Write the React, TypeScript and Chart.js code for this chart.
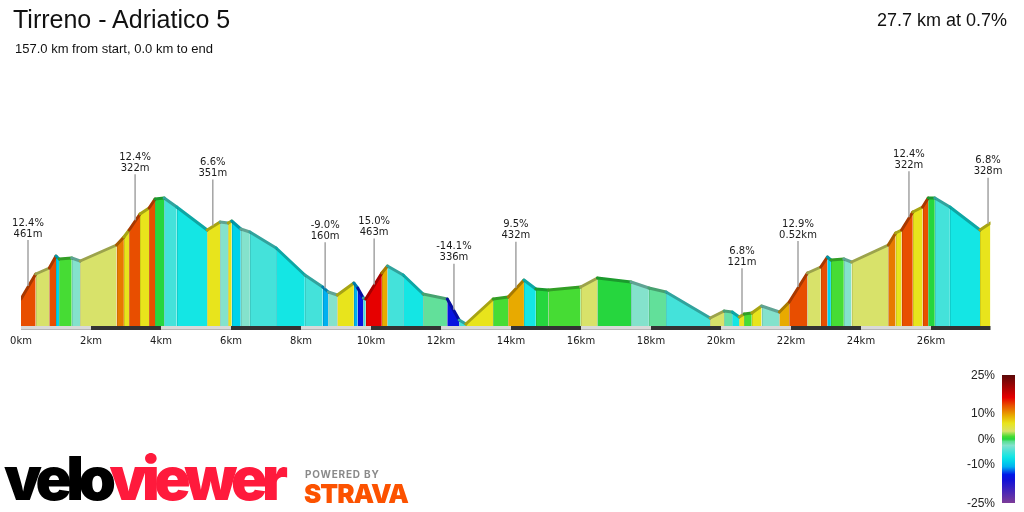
import React, { useEffect, useRef } from "react";
import { Chart, registerables } from "chart.js";

Chart.register(...registerables);

// ---- data ----
const distanceKm = [
  0, 0.42, 0.81, 1.0, 1.09, 1.45, 1.69, 2.73, 2.94, 3.09, 3.4, 3.66, 3.83, 4.09, 4.45, 5.32, 5.69, 5.92,
  6.02, 6.28, 6.54, 7.29, 8.11, 8.62, 8.78, 9.04, 9.51, 9.62, 9.78, 9.85, 10.31, 10.47, 10.92, 11.49,
  12.18, 12.52, 12.71, 13.49, 13.92, 14.37, 14.71, 15.07, 15.99, 16.47, 17.43, 17.94, 18.43, 19.69,
  20.09, 20.32, 20.52, 20.66, 20.88, 21.16, 21.67, 21.95, 22.47, 22.85, 23.04, 23.14, 23.51, 23.73,
  24.78, 24.99, 25.16, 25.48, 25.76, 25.92, 26.11, 26.54, 27.4, 27.7,
];
const elevation = [
  27, 52, 58, 70, 67, 68, 65, 81, 89, 96, 112, 118, 127, 128, 119, 96, 104, 103,
  105, 97, 94, 78, 51, 39, 34, 31, 43, 38, 28, 27, 53, 60, 51, 32,
  27, 6, 2, 27, 29, 46, 37, 36, 39, 48, 44, 38, 34, 8,
  15, 14, 9, 12, 13, 20, 14, 24, 53, 59, 69, 66, 67, 64,
  81, 93, 96, 114, 119, 128, 128, 119, 96, 103,
];
// gradient class (%) of each segment between consecutive points
const segmentGrade = [
  13, 3, 13, -9, 1, -2.5, 3, 11, 6, 13, 6, 13, 0, -5, -7, 6, -2.5, 6,
  -9, -2.5, -5, -7, -5, -11, -2.5, 6, -11, -15, -5, 16, 9, -5, -7, -1,
  -15, -5, 6, 1, 9, -7, 0, 1, 3, 0, -2.5, -1, -5, 3,
  -1.5, -7, 6, 1, 6, -2.5, 9, 13, 3, 13, -9, 1, -2.5, 3,
  11, 6, 13, 6, 13, 0, -5, -7, 6,
];
const totalKm = 27.7;
const tickStepKm = 2;

const annotationKm = [0.2, 3.26, 5.48, 8.69, 10.09, 12.37, 14.14, 20.6, 22.2, 25.37, 27.63];
const annotationGrade = ["12.4%", "12.4%", "6.6%", "-9.0%", "15.0%", "-14.1%", "9.5%", "6.8%", "12.9%", "12.4%", "6.8%"];
const annotationLength = ["461m", "322m", "351m", "160m", "463m", "336m", "432m", "121m", "0.52km", "322m", "328m"];

const legendGrades = [25, 10, 0, -10, -25];
const legendLabels = ["25%", "10%", "0%", "-10%", "-25%"];

const titleText = "Tirreno - Adriatico 5";
const subtitleText = "157.0 km from start, 0.0 km to end";
const summaryText = "27.7 km at 0.7%";

// ---- colour scale ----
const gradeStops: [number, string][] = [
  [-25, "#7d3c98"], [-16, "#1010d8"], [-14, "#0018e8"], [-11, "#00b0f0"], [-9, "#00d2ea"],
  [-7, "#14e6e4"], [-5, "#44e2da"], [-2.5, "#84e2cc"], [-1.5, "#66e0a6"], [-1, "#62e09a"],
  [0, "#26d63e"], [1, "#46dc34"], [3, "#d8e26a"], [6, "#e8e41c"], [9, "#e8aa00"],
  [11, "#e87a00"], [13, "#e84e00"], [16, "#e60000"], [25, "#5a0808"],
];
const legendFrac = [0, 0.295, 0.501, 0.697, 1];

function hexToRgb(h: string) {
  const n = parseInt(h.slice(1), 16);
  return [(n >> 16) & 255, (n >> 8) & 255, n & 255];
}
function gradeRgb(g: number) {
  if (g <= gradeStops[0][0]) return hexToRgb(gradeStops[0][1]);
  for (let i = 1; i < gradeStops.length; i++) {
    const [g1, c1] = gradeStops[i];
    if (g <= g1) {
      const [g0, c0] = gradeStops[i - 1];
      const t = (g - g0) / (g1 - g0);
      const a = hexToRgb(c0), b = hexToRgb(c1);
      return a.map((v, k) => Math.round(v + (b[k] - v) * t));
    }
  }
  return hexToRgb(gradeStops[gradeStops.length - 1][1]);
}
function gradeColor(g: number, f = 1) {
  const c = gradeRgb(g).map((v) => Math.round(v * f));
  return `rgb(${c[0]},${c[1]},${c[2]})`;
}
function legendPos(g: number) {
  for (let i = 1; i < legendGrades.length; i++) {
    if (g >= legendGrades[i]) {
      const t = (legendGrades[i - 1] - g) / (legendGrades[i - 1] - legendGrades[i]);
      return legendFrac[i - 1] + t * (legendFrac[i] - legendFrac[i - 1]);
    }
  }
  return 1;
}
function elevationAt(km: number) {
  for (let i = 1; i < distanceKm.length; i++) {
    if (km <= distanceKm[i]) {
      const t = (km - distanceKm[i - 1]) / (distanceKm[i] - distanceKm[i - 1]);
      return elevation[i - 1] + t * (elevation[i] - elevation[i - 1]);
    }
  }
  return elevation[elevation.length - 1];
}

// ---- plugins ----
const bandsPlugin = {
  id: "kmBands",
  afterDatasetsDraw(chart: any) {
    const { ctx, chartArea, scales } = chart;
    const x = scales.x;
    ctx.save();
    let k = 0;
    for (let s = 0; s < totalKm; s += tickStepKm, k++) {
      const x0 = x.getPixelForValue(s);
      const x1 = x.getPixelForValue(Math.min(s + tickStepKm, totalKm));
      ctx.fillStyle = k % 2 === 0 ? "#d9d9d9" : "#333333";
      ctx.fillRect(x0, chartArea.bottom, x1 - x0, 4);
      if (k % 2 === 0) {
        ctx.fillStyle = "#b5b5b5";
        ctx.fillRect(x0, chartArea.bottom + 3, x1 - x0, 1);
      }
    }
    ctx.restore();
  },
};

const seamsPlugin = {
  id: "segmentSeams",
  afterDatasetsDraw(chart: any) {
    const { ctx, scales } = chart;
    const { x, y } = scales;
    ctx.save();
    ctx.strokeStyle = "rgba(0,0,0,0.10)";
    ctx.lineWidth = 1;
    for (let i = 1; i < distanceKm.length - 1; i++) {
      const px = Math.round(x.getPixelForValue(distanceKm[i])) + 0.5;
      ctx.beginPath();
      ctx.moveTo(px, y.getPixelForValue(elevation[i]) + 1);
      ctx.lineTo(px, y.getPixelForValue(0));
      ctx.stroke();
    }
    ctx.restore();
  },
};

const labelsPlugin = {
  id: "climbLabels",
  afterDatasetsDraw(chart: any) {
    const { ctx, scales } = chart;
    const { x, y } = scales;
    ctx.save();
    annotationKm.forEach((km, i) => {
      const px = x.getPixelForValue(km);
      const py = y.getPixelForValue(elevationAt(km)) - 1;
      const top = py - 46;
      ctx.strokeStyle = "#a3a3a3";
      ctx.lineWidth = 1.5;
      ctx.beginPath();
      ctx.moveTo(px, top);
      ctx.lineTo(px, py);
      ctx.stroke();
      ctx.fillStyle = "#1a1a1a";
      ctx.font = '10px "DejaVu Sans"';
      ctx.textAlign = "center";
      ctx.textBaseline = "middle";
      ctx.fillText(annotationGrade[i], px, top - 17);
      ctx.fillText(annotationLength[i], px, top - 6);
    });
    ctx.restore();
  },
};

function ProfileChart() {
  const ref = useRef<HTMLCanvasElement | null>(null);
  useEffect(() => {
    if (!ref.current) return;
    const chart = new Chart(ref.current, {
      type: "line",
      data: {
        datasets: [
          {
            data: distanceKm.map((d, i) => ({ x: d, y: elevation[i] })),
            fill: "origin",
            borderWidth: 3,
            pointRadius: 0,
            tension: 0,
            borderJoinStyle: "round",
            borderCapStyle: "round",
            backgroundColor: gradeColor(segmentGrade[0]),
            borderColor: gradeColor(segmentGrade[0], 0.72),
            segment: {
              backgroundColor: (c: any) => gradeColor(segmentGrade[c.p0DataIndex]),
              borderColor: (c: any) => gradeColor(segmentGrade[c.p0DataIndex], 0.72),
            },
          } as any,
        ],
      },
      options: {
        responsive: false,
        animation: false,
        events: [],
        layout: { padding: { left: 21, right: 33.5, top: 60, bottom: 156 } },
        plugins: { legend: { display: false }, tooltip: { enabled: false } },
        scales: {
          x: {
            type: "linear",
            min: 0,
            max: totalKm,
            grid: { display: false, drawTicks: false },
            border: { display: false },
            ticks: {
              stepSize: tickStepKm,
              includeBounds: false,
              autoSkip: false,
              maxRotation: 0,
              padding: 9,
              color: "#1a1a1a",
              font: { family: "DejaVu Sans", size: 10 },
              callback: (v: any) => `${v}km`,
            },
          },
          y: { display: false, min: 0, max: 266 },
        },
      },
      plugins: [bandsPlugin, seamsPlugin, labelsPlugin],
    });
    return () => chart.destroy();
  }, []);
  return (
    <canvas
      ref={ref}
      width={1024}
      height={512}
      style={{ position: "absolute", left: 0, top: 0, width: 1024, height: 512 }}
    />
  );
}

export default function App() {
  const legendStops = [...gradeStops]
    .reverse()
    .map(([g, c]) => `${c} ${(legendPos(g) * 100).toFixed(1)}%`)
    .join(", ");
  const sans = '"Liberation Sans", Arial, sans-serif';
  return (
    <div
      style={{
        position: "fixed",
        left: 0,
        top: 0,
        width: 1024,
        height: 512,
        background: "#fff",
        overflow: "hidden",
        fontFamily: sans,
      }}
    >
      <ProfileChart />
      <div style={{ position: "absolute", left: 13, top: 7, fontSize: 25, lineHeight: "25px", color: "#111" }}>
        {titleText}
      </div>
      <div style={{ position: "absolute", left: 15, top: 41.5, fontSize: 13, lineHeight: "13px", color: "#111" }}>
        {subtitleText}
      </div>
      <div style={{ position: "absolute", right: 17, top: 11, fontSize: 18, lineHeight: "18px", color: "#111" }}>
        {summaryText}
      </div>
      <div
        style={{
          position: "absolute",
          left: 1002,
          top: 375,
          width: 13,
          height: 128,
          background: `linear-gradient(to bottom, ${legendStops})`,
        }}
      />
      {legendLabels.map((l, i) => (
        <div
          key={l}
          style={{
            position: "absolute",
            right: 29,
            top: 375 + legendFrac[i] * 127.7 - 6,
            fontSize: 12,
            lineHeight: "12px",
            color: "#222",
          }}
        >
          {l}
        </div>
      ))}
      <div
        style={{
          position: "absolute",
          left: 4,
          top: 443,
          fontFamily: "Inter, Roboto, sans-serif",
          fontWeight: 900,
          fontSize: 60,
          lineHeight: "70px",
          letterSpacing: -5.5,
          whiteSpace: "nowrap",
        }}
      >
        <span style={{ color: "#000" }}>velo</span>
        <span style={{ color: "#ff1a3c" }}>viewer</span>
      </div>
      <div
        style={{
          position: "absolute",
          left: 305,
          top: 469,
          fontFamily: "Inter, Roboto, sans-serif",
          fontWeight: 700,
          fontSize: 10,
          lineHeight: "10px",
          letterSpacing: 0.8,
          color: "#8a8a8a",
        }}
      >
        POWERED BY
      </div>
      <div
        style={{
          position: "absolute",
          left: 304,
          top: 481,
          fontFamily: "Inter, Roboto, sans-serif",
          fontWeight: 900,
          fontSize: 26,
          lineHeight: "26px",
          letterSpacing: -1,
          color: "#fc5200",
        }}
      >
        STRAVA
      </div>
    </div>
  );
}
